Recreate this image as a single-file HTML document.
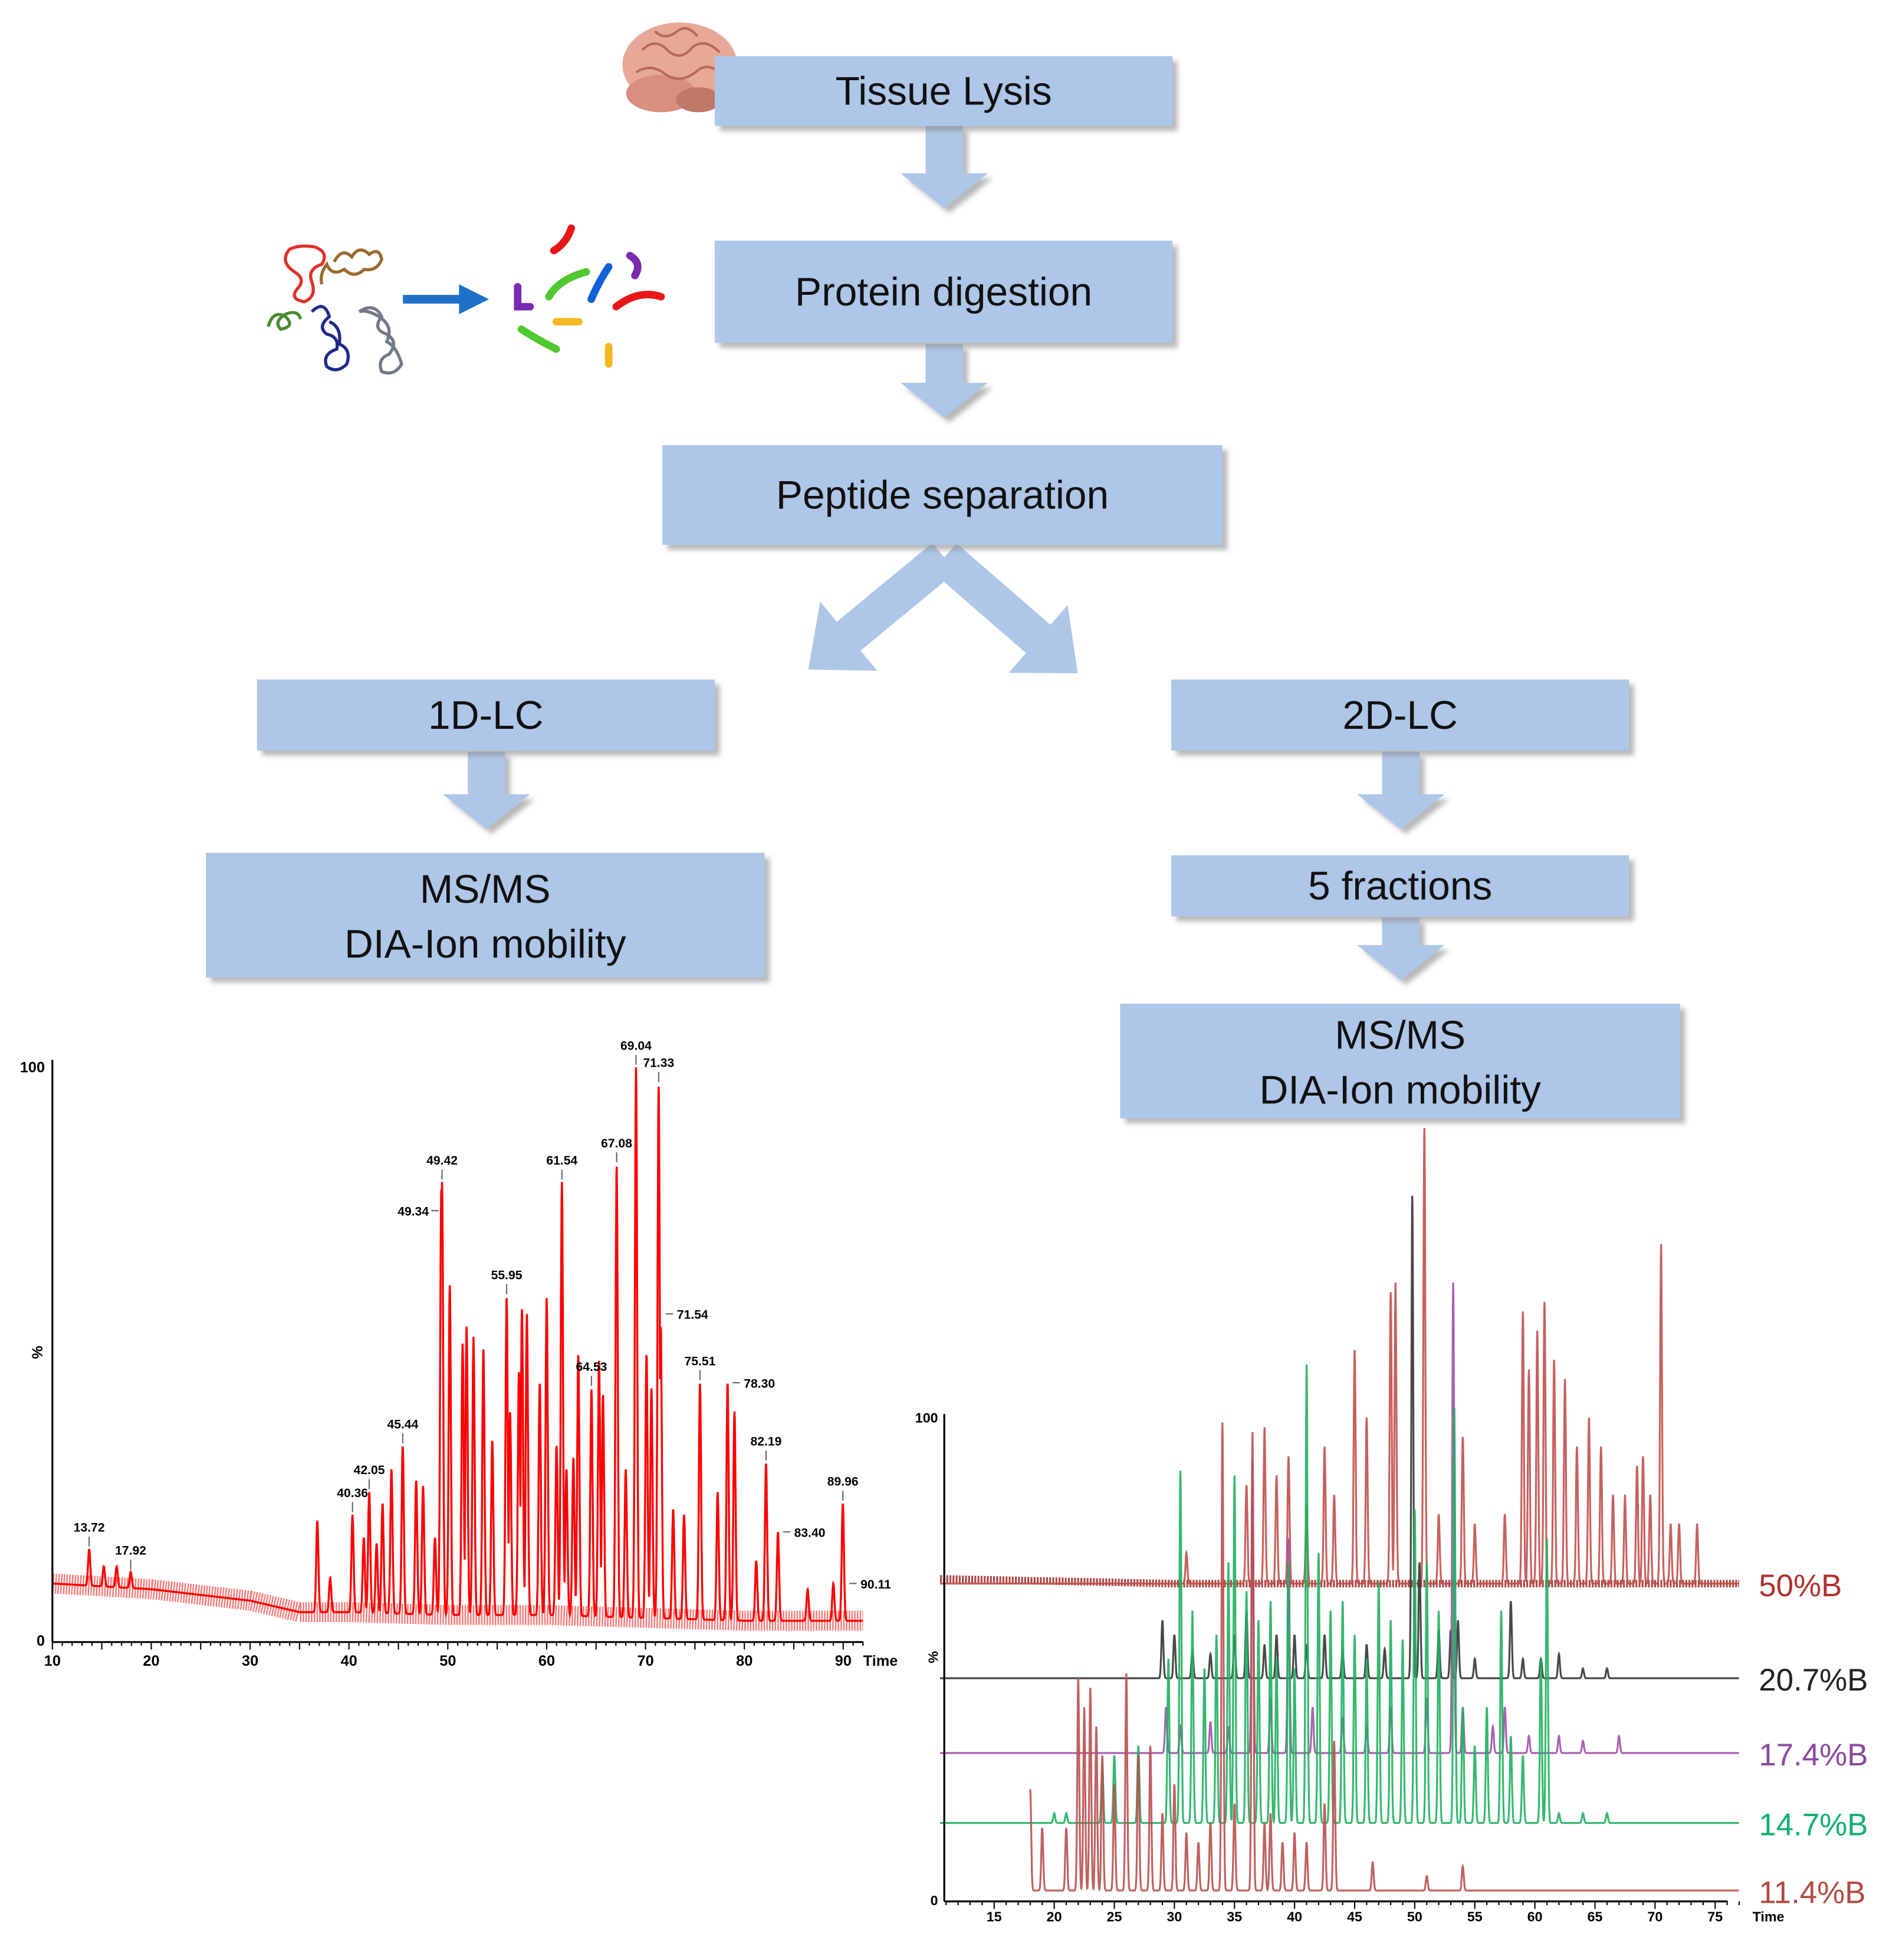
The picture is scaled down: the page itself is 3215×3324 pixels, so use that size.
<!DOCTYPE html>
<html><head><meta charset="utf-8"><style>
html,body{margin:0;padding:0;background:#fff;}
svg{display:block;}
text{font-family:"Liberation Sans",sans-serif;}
</style></head><body>
<svg id="root" width="3215" height="3324" viewBox="0 0 1520 1572" preserveAspectRatio="none" xmlns="http://www.w3.org/2000/svg">
<defs>
<filter id="sh" x="-5%" y="-10%" width="115%" height="130%"><feDropShadow dx="4" dy="4" stdDeviation="2" flood-color="#888" flood-opacity="0.6"/></filter>
</defs>
<rect width="1520" height="1572" fill="#fff"/>
<g>
<ellipse cx="545" cy="52" rx="46" ry="34" fill="#e8a898"/>
<ellipse cx="530" cy="75" rx="28" ry="15" fill="#d98f80"/>
<ellipse cx="560" cy="80" rx="18" ry="10" fill="#c07868"/>
<path d="M515 40 q10 -10 20 0 q10 10 20 -2 q10 -8 22 4 M510 58 q12 -8 24 2 q12 8 26 -4 q8 -6 20 4 M525 25 q8 8 18 0 q8 -6 16 4" stroke="#b86a5a" stroke-width="2" fill="none"/>
</g>
<g fill="none" stroke-width="2.5">
<path d="M232 200 q-8 10 4 18 q10 6 2 14 q-6 8 6 10 q10 -4 6 -16 q-4 -10 8 -14 q6 -10 -6 -14 q-12 -2 -20 2z" stroke="#e0302a"/>
<path d="M268 210 q6 -12 14 -4 q6 -10 14 -2 q8 -6 10 4 q-4 10 -14 8 q-8 8 -16 0 q-10 6 -14 -4 q-6 8 -4 16" stroke="#9a6a30"/>
<path d="M215 262 q4 -14 14 -8 q8 8 -4 10 q-6 -6 4 -12 q10 -4 12 4" stroke="#4a8a30"/>
<path d="M250 250 q10 -10 14 4 q-10 8 -2 14 q10 2 8 12 q-12 4 -8 14 q8 6 16 -2 q4 -12 -6 -16 q2 -14 -8 -18" stroke="#202a8a"/>
<path d="M288 250 q12 -8 18 4 q-8 10 4 14 q10 6 2 16 q-10 4 -6 14 q10 4 16 -6 q-4 -14 -12 -18 q6 -12 -6 -20 q-10 -6 -16 -4" stroke="#707a88"/>
</g>
<g><line x1="323" y1="240" x2="372" y2="240" stroke="#1f70c8" stroke-width="7"/><polygon points="368,228 392,240 368,252" fill="#1f70c8"/></g>
<g fill="none" stroke-width="6" stroke-linecap="round">
<path d="M458 183 q-4 12 -14 18" stroke="#e81818"/><path d="M415 230 v16 h10" stroke="#7a2ab0"/>
<path d="M440 238 q8 -14 30 -20" stroke="#50c830"/><path d="M488 214 q-8 12 -14 26" stroke="#1060d8"/>
<path d="M505 205 q10 6 4 16" stroke="#7a2ab0"/><path d="M494 246 q18 -14 36 -8" stroke="#e81818"/>
<path d="M446 258 h18" stroke="#f4b820"/><path d="M418 264 q12 8 28 16" stroke="#50c830"/><path d="M488 278 v14" stroke="#f4b820"/>
</g>
<g id="flow"></g>
<g id="left"></g>
<g id="right"></g>
</svg>
<script>
const NS="http://www.w3.org/2000/svg";
function mk(tag,attrs,parent){const e=document.createElementNS(NS,tag);for(const k in attrs)e.setAttribute(k,attrs[k]);parent.appendChild(e);return e;}
const flow=document.getElementById('flow');
const boxes=[
 ['tissue-lysis-box',573,45,367,56,['Tissue Lysis']],
 ['protein-digestion-box',573,193,367,82,['Protein digestion']],
 ['peptide-separation-box',531,357,449,80,['Peptide separation']],
 ['1d-lc-box',206,545,367,57,['1D-LC']],
 ['2d-lc-box',939,545,367,57,['2D-LC']],
 ['ms-ms-left-box',165,684,448,100,['MS/MS','DIA-Ion mobility']],
 ['five-fractions-box',939,686,367,49,['5 fractions']],
 ['ms-ms-right-box',898,805,449,92,['MS/MS','DIA-Ion mobility']]
];
const arrows=[[757,101,167],[757,276,335],[390,603,665],[1123,603,665],[1123,736,786]];
arrows.forEach((a,i)=>{const [cx,y1,y2]=a;
 const p=mk('polygon',{points:`${cx-15},${y1} ${cx+15},${y1} ${cx+15},${y2-28} ${cx+35},${y2-28} ${cx},${y2} ${cx-35},${y2-28} ${cx-15},${y2-28}`,fill:'#aec7e8',filter:'url(#sh)'},flow);
 
 
});
[[757,447,648,537],[757,447,864,540]].forEach((d,i)=>{
 const [x1,y1,x2,y2]=d;const dx=x2-x1,dy=y2-y1,L=Math.hypot(dx,dy),ux=dx/L,uy=dy/L,px=-uy,py=ux;
 const w=15,hw=36,hl=42;const bx=x2-ux*hl,by=y2-uy*hl;
 const pts=[[x1+px*w,y1+py*w],[bx+px*w,by+py*w],[bx+px*hw,by+py*hw],[x2,y2],[bx-px*hw,by-py*hw],[bx-px*w,by-py*w],[x1-px*w,y1-py*w]];
 const p=mk('polygon',{points:pts.map(q=>q.join(',')).join(' '),fill:'#aec7e8'},flow);
 
 
});
boxes.forEach(b=>{const [n,x,y,w,h,lines]=b;
 const g=mk('g',{},flow);
 mk('rect',{x,y,width:w,height:h,fill:'#aec7e8',filter:'url(#sh)'},g);
 lines.forEach((t,i)=>{const ty=lines.length==1?y+h/2+11:y+h/2-12+i*46+(i==0?2:0);
  const tx=mk('text',{x:x+w/2,y:ty,'text-anchor':'middle','font-size':32,fill:'#111'},g);tx.textContent=t;});
});
// ---------- left chart ----------
const leftTimes=[13.72,15.2,16.5,17.92,36.8,38.1,40.36,41.5,42.05,42.8,43.4,44.3,45.44,46.8,47.5,48.7,49.34,49.42,50.2,51.5,51.9,52.6,53.6,54.5,55.95,56.3,57.2,57.5,58.0,59.3,60.0,61.0,61.54,62.0,62.7,63.2,64.53,65.3,65.7,67.08,68.0,69.04,70.1,70.6,71.33,71.54,72.8,73.9,75.51,77.3,78.30,79.0,81.2,82.19,83.40,86.4,89.0,89.96];
const leftHeights=[16,13,13,12,21,11,22,18,26,17,24,30,34,28,27,18,79,80,62,52,55,53,51,35,60,40,47,58,57,45,60,34,80,30,32,50,44,49,43,83,30,100,50,44,97,55,23,22,45,26,45,40,14,31,19,9,10,24];
const leftBaseT=[10,15,20,25,30,35,40,50,60,70,80,85,92];
const leftBaseV=[10,9.5,9,8,7,5,5,4.5,4.5,4,3.5,3.5,3.5];
const leftXTicks=[10,20,30,40,50,60,70,80,90];
const leftLabels=[['13.72',13.72,16,'v'],['17.92',17.92,12,'v'],['40.36',40.36,22,'v'],['42.05',42.05,26,'v'],['45.44',45.44,34,'v'],['49.42',49.42,80,'v'],['49.34',49.34,75,'l'],['55.95',55.95,60,'v'],['61.54',61.54,80,'v'],['64.53',64.53,44,'v'],['67.08',67.08,83,'v'],['69.04',69.04,100,'v'],['71.33',71.33,97,'v'],['71.54',71.54,57,'r'],['75.51',75.51,45,'v'],['78.30',78.30,45,'r'],['82.19',82.19,31,'v'],['83.40',83.40,19,'r'],['89.96',89.96,24,'v'],['90.11',90.11,10,'r']];
const L=document.getElementById('left');
const lx=t=>42+(t-10)*(676-42)/80, ly=v=>1316-v*4.6;
function interp(T,V,t){for(let i=0;i<T.length-1;i++){if(t<=T[i+1])return V[i]+(V[i+1]-V[i])*(t-T[i])/(T[i+1]-T[i]);}return V[V.length-1];}
function signal(times,heights,bT,bV,t,s){const b=interp(bT,bV,t);let m=b;for(let i=0;i<times.length;i++){const d=(t-times[i])/s;if(Math.abs(d)<5){const v=b+(heights[i]-b)*Math.exp(-d*d/2);if(v>m)m=v;}}return m;}
(function(){
 const g=mk('g',{},L);
 let bd='';for(let t=10;t<=92;t+=0.5){bd+=(bd?'L':'M')+lx(t).toFixed(1)+','+ly(interp(leftBaseT,leftBaseV,t)).toFixed(1);}
 const band=mk('path',{d:bd,stroke:'#f01010',fill:'none','stroke-width':16,opacity:0.55,'stroke-dasharray':'1.2 1'},g);
 
 let d='';for(let t=10;t<=92;t+=0.03){d+=(d?'L':'M')+lx(t).toFixed(1)+','+ly(signal(leftTimes,leftHeights,leftBaseT,leftBaseV,t,0.11)).toFixed(1);}
 const tr=mk('path',{d,stroke:'#ff0000',fill:'none','stroke-width':1.6},g);
 
 const ax=mk('g',{stroke:'#000','stroke-width':1.5},L);
 mk('line',{x1:42,y1:850,x2:42,y2:1317},ax);mk('line',{x1:42,y1:1317,x2:692,y2:1317},ax);
 for(let t=10;t<=92;t+=1){mk('line',{x1:lx(t),y1:1317,x2:lx(t),y2:t%5==0?1323:1320,'stroke-width':1},ax);}
 leftXTicks.forEach(t=>{const e=mk('text',{x:lx(t),y:1336,'text-anchor':'middle','font-size':12,'font-weight':'bold',fill:'#000',stroke:'none'},L);e.textContent=t;});
 let e=mk('text',{x:692,y:1336,'font-size':12,'font-weight':'bold'},L);e.textContent='Time';
 e=mk('text',{x:36,y:860,'text-anchor':'end','font-size':12,'font-weight':'bold'},L);e.textContent='100';
 e=mk('text',{x:36,y:1320,'text-anchor':'end','font-size':12,'font-weight':'bold'},L);e.textContent='0';
 e=mk('text',{x:0,y:0,'font-size':12,'font-weight':'bold',transform:'translate(34,1090) rotate(-90)'},L);e.textContent='%';
 leftLabels.forEach(a=>{const [s,t,v,k]=a;const x=lx(t),y=ly(v);
  const lg=mk('g',{},L);
  if(k=='v'){mk('line',{x1:x,y1:y-2,x2:x,y2:y-10,stroke:'#666','stroke-width':1},lg);const q=mk('text',{x:x,y:y-14,'text-anchor':'middle','font-size':10,'font-weight':'bold'},lg);q.textContent=s;}
  else if(k=='l'){mk('line',{x1:x-2,y1:y,x2:x-8,y2:y,stroke:'#666'},lg);const q=mk('text',{x:x-10,y:y+4,'text-anchor':'end','font-size':10,'font-weight':'bold'},lg);q.textContent=s;}
  else{mk('line',{x1:x+4,y1:y,x2:x+10,y2:y,stroke:'#666'},lg);const q=mk('text',{x:x+13,y:y+4,'font-size':10,'font-weight':'bold'},lg);q.textContent=s;}
 });
})();
// ---------- right chart ----------
const fracNames=['50%B','20.7%B','17.4%B','14.7%B','11.4%B'];
const fracBase=[65.6,46,30.5,16,2];
const fracColors=['#c0504d','#333333','#a050a8','#1fb060','#b85050'];
const fracLabelColors=['#b03030','#222222','#8a4aa0','#10b070','#b04a40'];
const frac50T=[31,36,37.5,38.5,39.5,41,42.5,43.3,45,46,48,48.4,50.8,52,54,55,57.5,59,59.5,60.2,60.8,61.6,62.5,63.5,64.5,65.5,66.5,67.5,68.5,69,69.6,70.5,71.3,72,73.5];
const frac50H=[72,86,98,88,92,82,94,84,114,100,126,128,160,80,96,78,80,122,110,118,124,112,108,94,100,94,84,84,90,92,84,136,78,78,78];
const frac207T=[29,30,31.5,33,35,36,37.5,38.5,40,41,42.5,44,46,47.5,49.8,50.4,52,53,53.6,55,58,59,60.5,62,64,66];
const frac207H=[58,55,52,51,55,60,53,55,55,53,55,52,53,52,146,70,56,56,58,50,62,50,50,51,48,48];
const frac174T=[29.3,30.5,33,34.5,36.5,38,39.5,41.5,44,46,48,51,53.2,54,56.5,57.5,59.5,62,64,67];
const frac174H=[40,36,37,36,91,42,75,40,38,36,40,42,128,40,36,40,34,34,33,34];
const frac147T=[20,21,24,25,27,29.5,30.5,31.5,32.5,33.5,34.5,35,36,37,38,38.5,39.5,40,41,42,43,44,45,46,47,48,49,50,51,52,53.3,54,55,56,57.2,58,59,60.5,61,62,64,66];
const frac147H=[18,18,28,30,32,50,89,60,48,55,70,88,64,58,62,50,70,48,111,72,60,62,55,50,66,58,54,81,70,60,102,40,32,40,60,34,30,50,75,18,18,18];
const frac114T=[18,19,21,22,22.5,23,23.5,24,25,26,27,28,29,30,31,32,33,34,35,36.5,37.5,38,39,40,41,42.5,43.3,46.5,51,54];
const frac114H=[23,15,15,46,40,44,36,30,24,47,30,32,18,24,14,12,16,99,20,97,16,18,12,14,12,20,33,8,5,7];
const fracT=[frac50T,frac207T,frac174T,frac147T,frac114T];
const fracH=[frac50H,frac207H,frac174H,frac147H,frac114H];
const fracStart=[10.5,10.5,10.5,10.5,18];
const rightXTicks=[15,20,25,30,35,40,45,50,55,60,65,70,75];
const R=document.getElementById('right');
const rx=t=>797+(t-15)*(1375-797)/60, ry=v=>1524-v*3.87;
fracNames.forEach((n,i)=>{
 const g=mk('g',{},R);
 const bT=[10,80],bV=[fracBase[i],fracBase[i]];
 if(i==0){const band=mk('path',{d:`M${rx(10.5)},${ry(fracBase[0]+1)} L${rx(30)},${ry(fracBase[0])} L${rx(77)},${ry(fracBase[0])}`,stroke:'#9a1a1a','stroke-width':6,fill:'none',opacity:0.8,'stroke-dasharray':'1.5 1'},g);}
 let d='';for(let t=fracStart[i];t<=77;t+=0.02){d+=(d?'L':'M')+rx(t).toFixed(1)+','+ry(signal(fracT[i],fracH[i],bT,bV,t,0.08)).toFixed(1);}
 const p=mk('path',{d,stroke:fracColors[i],fill:'none','stroke-width':1.5,opacity:0.9},g);
 
 const lbl=mk('text',{x:1410,y:ry(fracBase[i])+10,'font-size':25,fill:fracLabelColors[i]},R);lbl.textContent=n;
 
});
(function(){
 const ax=mk('g',{stroke:'#000','stroke-width':1.5},R);
 mk('line',{x1:757,y1:1134,x2:757,y2:1525},ax);mk('line',{x1:757,y1:1525,x2:1385,y2:1525},ax);
 for(let t=11;t<=77;t+=1){mk('line',{x1:rx(t),y1:1525,x2:rx(t),y2:t%5==0?1531:1528,'stroke-width':1},ax);}
 rightXTicks.forEach(t=>{const e=mk('text',{x:rx(t),y:1541,'text-anchor':'middle','font-size':11,'font-weight':'bold'},R);e.textContent=t;});
 let e=mk('text',{x:1405,y:1541,'font-size':11,'font-weight':'bold'},R);e.textContent='Time';
 e=mk('text',{x:752,y:1141,'text-anchor':'end','font-size':11,'font-weight':'bold'},R);e.textContent='100';
 e=mk('text',{x:752,y:1528,'text-anchor':'end','font-size':11,'font-weight':'bold'},R);e.textContent='0';
 e=mk('text',{x:0,y:0,'font-size':11,'font-weight':'bold',transform:'translate(752,1334) rotate(-90)'},R);e.textContent='%';
})();
</script>
</body></html>
